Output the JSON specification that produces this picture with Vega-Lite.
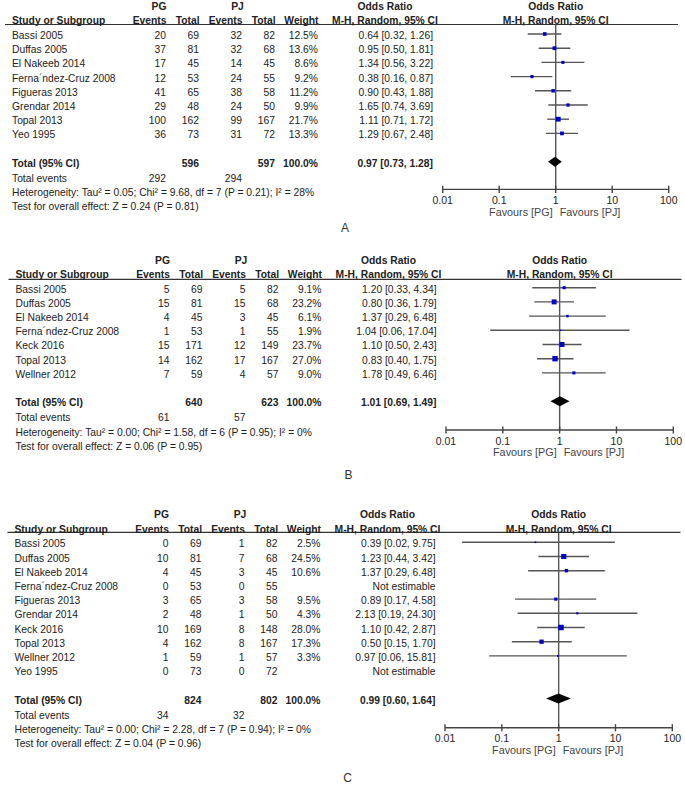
{
"$schema":"https://vega.github.io/schema/vega-lite/v6.json",
"padding":0,
"spacing":0,
"background":"white",
"datasets":{
"studies":[
{"panel":"A","row":1,"study":"Bassi 2005","pge":20,"pgt":69,"pje":32,"pjt":82,"weight":0.125,"ortext":"0.64 [0.32, 1.26]","est":0.64,"lo":0.32,"hi":1.26},
{"panel":"A","row":2,"study":"Duffas 2005","pge":37,"pgt":81,"pje":32,"pjt":68,"weight":0.136,"ortext":"0.95 [0.50, 1.81]","est":0.95,"lo":0.50,"hi":1.81},
{"panel":"A","row":3,"study":"El Nakeeb 2014","pge":17,"pgt":45,"pje":14,"pjt":45,"weight":0.086,"ortext":"1.34 [0.56, 3.22]","est":1.34,"lo":0.56,"hi":3.22},
{"panel":"A","row":4,"study":"Ferna´ndez-Cruz 2008","pge":12,"pgt":53,"pje":24,"pjt":55,"weight":0.092,"ortext":"0.38 [0.16, 0.87]","est":0.38,"lo":0.16,"hi":0.87},
{"panel":"A","row":5,"study":"Figueras 2013","pge":41,"pgt":65,"pje":38,"pjt":58,"weight":0.112,"ortext":"0.90 [0.43, 1.88]","est":0.90,"lo":0.43,"hi":1.88},
{"panel":"A","row":6,"study":"Grendar 2014","pge":29,"pgt":48,"pje":24,"pjt":50,"weight":0.099,"ortext":"1.65 [0.74, 3.69]","est":1.65,"lo":0.74,"hi":3.69},
{"panel":"A","row":7,"study":"Topal 2013","pge":100,"pgt":162,"pje":99,"pjt":167,"weight":0.217,"ortext":"1.11 [0.71, 1.72]","est":1.11,"lo":0.71,"hi":1.72},
{"panel":"A","row":8,"study":"Yeo 1995","pge":36,"pgt":73,"pje":31,"pjt":72,"weight":0.133,"ortext":"1.29 [0.67, 2.48]","est":1.29,"lo":0.67,"hi":2.48},
{"panel":"B","row":1,"study":"Bassi 2005","pge":5,"pgt":69,"pje":5,"pjt":82,"weight":0.091,"ortext":"1.20 [0.33, 4.34]","est":1.20,"lo":0.33,"hi":4.34},
{"panel":"B","row":2,"study":"Duffas 2005","pge":15,"pgt":81,"pje":15,"pjt":68,"weight":0.232,"ortext":"0.80 [0.36, 1.79]","est":0.80,"lo":0.36,"hi":1.79},
{"panel":"B","row":3,"study":"El Nakeeb 2014","pge":4,"pgt":45,"pje":3,"pjt":45,"weight":0.061,"ortext":"1.37 [0.29, 6.48]","est":1.37,"lo":0.29,"hi":6.48},
{"panel":"B","row":4,"study":"Ferna´ndez-Cruz 2008","pge":1,"pgt":53,"pje":1,"pjt":55,"weight":0.019,"ortext":"1.04 [0.06, 17.04]","est":1.04,"lo":0.06,"hi":17.04},
{"panel":"B","row":5,"study":"Keck 2016","pge":15,"pgt":171,"pje":12,"pjt":149,"weight":0.237,"ortext":"1.10 [0.50, 2.43]","est":1.10,"lo":0.50,"hi":2.43},
{"panel":"B","row":6,"study":"Topal 2013","pge":14,"pgt":162,"pje":17,"pjt":167,"weight":0.270,"ortext":"0.83 [0.40, 1.75]","est":0.83,"lo":0.40,"hi":1.75},
{"panel":"B","row":7,"study":"Wellner 2012","pge":7,"pgt":59,"pje":4,"pjt":57,"weight":0.090,"ortext":"1.78 [0.49, 6.46]","est":1.78,"lo":0.49,"hi":6.46},
{"panel":"C","row":1,"study":"Bassi 2005","pge":0,"pgt":69,"pje":1,"pjt":82,"weight":0.025,"ortext":"0.39 [0.02, 9.75]","est":0.39,"lo":0.02,"hi":9.75},
{"panel":"C","row":2,"study":"Duffas 2005","pge":10,"pgt":81,"pje":7,"pjt":68,"weight":0.245,"ortext":"1.23 [0.44, 3.42]","est":1.23,"lo":0.44,"hi":3.42},
{"panel":"C","row":3,"study":"El Nakeeb 2014","pge":4,"pgt":45,"pje":3,"pjt":45,"weight":0.106,"ortext":"1.37 [0.29, 6.48]","est":1.37,"lo":0.29,"hi":6.48},
{"panel":"C","row":4,"study":"Ferna´ndez-Cruz 2008","pge":0,"pgt":53,"pje":0,"pjt":55,"weight":null,"ortext":"Not estimable","est":null,"lo":null,"hi":null},
{"panel":"C","row":5,"study":"Figueras 2013","pge":3,"pgt":65,"pje":3,"pjt":58,"weight":0.095,"ortext":"0.89 [0.17, 4.58]","est":0.89,"lo":0.17,"hi":4.58},
{"panel":"C","row":6,"study":"Grendar 2014","pge":2,"pgt":48,"pje":1,"pjt":50,"weight":0.043,"ortext":"2.13 [0.19, 24.30]","est":2.13,"lo":0.19,"hi":24.30},
{"panel":"C","row":7,"study":"Keck 2016","pge":10,"pgt":169,"pje":8,"pjt":148,"weight":0.280,"ortext":"1.10 [0.42, 2.87]","est":1.10,"lo":0.42,"hi":2.87},
{"panel":"C","row":8,"study":"Topal 2013","pge":4,"pgt":162,"pje":8,"pjt":167,"weight":0.173,"ortext":"0.50 [0.15, 1.70]","est":0.50,"lo":0.15,"hi":1.70},
{"panel":"C","row":9,"study":"Wellner 2012","pge":1,"pgt":59,"pje":1,"pjt":57,"weight":0.033,"ortext":"0.97 [0.06, 15.81]","est":0.97,"lo":0.06,"hi":15.81},
{"panel":"C","row":10,"study":"Yeo 1995","pge":0,"pgt":73,"pje":0,"pjt":72,"weight":null,"ortext":"Not estimable","est":null,"lo":null,"hi":null}
],
"summary":[
{"panel":"A","row":10,"label":"Total (95% CI)","pgt":596,"pjt":597,"weight":1,"ortext":"0.97 [0.73, 1.28]","evrow":11,"evlabel":"Total events","pge":292,"pje":294,"hetrow":12,"het":"Heterogeneity: Tau² = 0.05; Chi² = 9.68, df = 7 (P = 0.21); I² = 28%","testrow":13,"test":"Test for overall effect: Z = 0.24 (P = 0.81)"},
{"panel":"B","row":9,"label":"Total (95% CI)","pgt":640,"pjt":623,"weight":1,"ortext":"1.01 [0.69, 1.49]","evrow":10,"evlabel":"Total events","pge":61,"pje":57,"hetrow":11,"het":"Heterogeneity: Tau² = 0.00; Chi² = 1.58, df = 6 (P = 0.95); I² = 0%","testrow":12,"test":"Test for overall effect: Z = 0.06 (P = 0.95)"},
{"panel":"C","row":12,"label":"Total (95% CI)","pgt":824,"pjt":802,"weight":1,"ortext":"0.99 [0.60, 1.64]","evrow":13,"evlabel":"Total events","pge":34,"pje":32,"hetrow":14,"het":"Heterogeneity: Tau² = 0.00; Chi² = 2.28, df = 7 (P = 0.94); I² = 0%","testrow":15,"test":"Test for overall effect: Z = 0.04 (P = 0.96)"}
],
"diamonds":[
{"panel":"A","v":0.73,"top":10,"bot":10},{"panel":"A","v":0.97,"top":9.65,"bot":10.35},{"panel":"A","v":1.28,"top":10,"bot":10},
{"panel":"B","v":0.69,"top":9,"bot":9},{"panel":"B","v":1.01,"top":8.65,"bot":9.35},{"panel":"B","v":1.49,"top":9,"bot":9},
{"panel":"C","v":0.60,"top":12,"bot":12},{"panel":"C","v":0.99,"top":11.65,"bot":12.35},{"panel":"C","v":1.64,"top":12,"bot":12}
],
"ticks":[{"v":0.01,"lab":"0.01"},{"v":0.1,"lab":"0.1"},{"v":1,"lab":"1"},{"v":10,"lab":"10"},{"v":100,"lab":"100"}]
},
"vconcat":[
{
"width":685,"height":245,
"data":{"name":"summary"},
"transform":[{"filter":"datum.panel==='A'"}],
"resolve":{"scale":{"x":"independent"}},
"layer":[
{"layer":[
{"mark":{"type":"rule","color":"#333","strokeWidth":1.2},"encoding":{"x":{"datum":5,"type":"quantitative","scale":{"domain":[0,685],"nice":false,"zero":false}},"x2":{"datum":678},"y":{"datum":0.33,"type":"quantitative","scale":{"domain":[-1.394,15.859],"reverse":true,"nice":false,"zero":false}}}},
{"mark":{"type":"text","text":"PG","fontWeight":"bold","align":"center","dy":1.5},"encoding":{"x":{"datum":159,"type":"quantitative","scale":{"domain":[0,685],"nice":false,"zero":false}},"y":{"datum":-1,"type":"quantitative","scale":{"domain":[-1.394,15.859],"reverse":true,"nice":false,"zero":false}}}},
{"mark":{"type":"text","text":"PJ","fontWeight":"bold","align":"center","dy":1.5},"encoding":{"x":{"datum":237.5,"type":"quantitative","scale":{"domain":[0,685],"nice":false,"zero":false}},"y":{"datum":-1,"type":"quantitative","scale":{"domain":[-1.394,15.859],"reverse":true,"nice":false,"zero":false}}}},
{"mark":{"type":"text","text":"Odds Ratio","fontWeight":"bold","align":"center","dy":1.5},"encoding":{"x":{"datum":385,"type":"quantitative","scale":{"domain":[0,685],"nice":false,"zero":false}},"y":{"datum":-1,"type":"quantitative","scale":{"domain":[-1.394,15.859],"reverse":true,"nice":false,"zero":false}}}},
{"mark":{"type":"text","text":"Study or Subgroup","fontWeight":"bold","align":"left","dy":1.5},"encoding":{"x":{"datum":12,"type":"quantitative","scale":{"domain":[0,685],"nice":false,"zero":false}},"y":{"datum":0,"type":"quantitative","scale":{"domain":[-1.394,15.859],"reverse":true,"nice":false,"zero":false}}}},
{"mark":{"type":"text","text":"Events","fontWeight":"bold","align":"right","dy":1.5},"encoding":{"x":{"datum":166.5,"type":"quantitative","scale":{"domain":[0,685],"nice":false,"zero":false}},"y":{"datum":0,"type":"quantitative","scale":{"domain":[-1.394,15.859],"reverse":true,"nice":false,"zero":false}}}},
{"mark":{"type":"text","text":"Total","fontWeight":"bold","align":"right","dy":1.5},"encoding":{"x":{"datum":199.5,"type":"quantitative","scale":{"domain":[0,685],"nice":false,"zero":false}},"y":{"datum":0,"type":"quantitative","scale":{"domain":[-1.394,15.859],"reverse":true,"nice":false,"zero":false}}}},
{"mark":{"type":"text","text":"Events","fontWeight":"bold","align":"right","dy":1.5},"encoding":{"x":{"datum":242.5,"type":"quantitative","scale":{"domain":[0,685],"nice":false,"zero":false}},"y":{"datum":0,"type":"quantitative","scale":{"domain":[-1.394,15.859],"reverse":true,"nice":false,"zero":false}}}},
{"mark":{"type":"text","text":"Total","fontWeight":"bold","align":"right","dy":1.5},"encoding":{"x":{"datum":275.5,"type":"quantitative","scale":{"domain":[0,685],"nice":false,"zero":false}},"y":{"datum":0,"type":"quantitative","scale":{"domain":[-1.394,15.859],"reverse":true,"nice":false,"zero":false}}}},
{"mark":{"type":"text","text":"Weight","fontWeight":"bold","align":"right","dy":1.5},"encoding":{"x":{"datum":318.5,"type":"quantitative","scale":{"domain":[0,685],"nice":false,"zero":false}},"y":{"datum":0,"type":"quantitative","scale":{"domain":[-1.394,15.859],"reverse":true,"nice":false,"zero":false}}}},
{"mark":{"type":"text","text":"M-H, Random, 95% CI","fontWeight":"bold","align":"center","dy":1.5},"encoding":{"x":{"datum":385,"type":"quantitative","scale":{"domain":[0,685],"nice":false,"zero":false}},"y":{"datum":0,"type":"quantitative","scale":{"domain":[-1.394,15.859],"reverse":true,"nice":false,"zero":false}}}},
{"data":{"name":"studies"},"transform":[{"filter":"datum.panel==='A'"}],"layer":[
{"mark":{"type":"text","align":"left","dy":2},"encoding":{"x":{"datum":12,"type":"quantitative","scale":{"domain":[0,685],"nice":false,"zero":false}},"y":{"field":"row","type":"quantitative","scale":{"domain":[-1.394,15.859],"reverse":true,"nice":false,"zero":false}},"text":{"field":"study","type":"nominal"}}},
{"mark":{"type":"text","align":"right","dy":2},"encoding":{"x":{"datum":166,"type":"quantitative","scale":{"domain":[0,685],"nice":false,"zero":false}},"y":{"field":"row","type":"quantitative","scale":{"domain":[-1.394,15.859],"reverse":true,"nice":false,"zero":false}},"text":{"field":"pge","type":"nominal"}}},
{"mark":{"type":"text","align":"right","dy":2},"encoding":{"x":{"datum":199,"type":"quantitative","scale":{"domain":[0,685],"nice":false,"zero":false}},"y":{"field":"row","type":"quantitative","scale":{"domain":[-1.394,15.859],"reverse":true,"nice":false,"zero":false}},"text":{"field":"pgt","type":"nominal"}}},
{"mark":{"type":"text","align":"right","dy":2},"encoding":{"x":{"datum":242,"type":"quantitative","scale":{"domain":[0,685],"nice":false,"zero":false}},"y":{"field":"row","type":"quantitative","scale":{"domain":[-1.394,15.859],"reverse":true,"nice":false,"zero":false}},"text":{"field":"pje","type":"nominal"}}},
{"mark":{"type":"text","align":"right","dy":2},"encoding":{"x":{"datum":275,"type":"quantitative","scale":{"domain":[0,685],"nice":false,"zero":false}},"y":{"field":"row","type":"quantitative","scale":{"domain":[-1.394,15.859],"reverse":true,"nice":false,"zero":false}},"text":{"field":"pjt","type":"nominal"}}},
{"transform":[{"filter":{"field":"weight","valid":true}}],"mark":{"type":"text","align":"right","dy":2},"encoding":{"x":{"datum":318,"type":"quantitative","scale":{"domain":[0,685],"nice":false,"zero":false}},"y":{"field":"row","type":"quantitative","scale":{"domain":[-1.394,15.859],"reverse":true,"nice":false,"zero":false}},"text":{"field":"weight","type":"quantitative","format":".1%"}}},
{"mark":{"type":"text","align":"right","dy":2},"encoding":{"x":{"datum":433,"type":"quantitative","scale":{"domain":[0,685],"nice":false,"zero":false}},"y":{"field":"row","type":"quantitative","scale":{"domain":[-1.394,15.859],"reverse":true,"nice":false,"zero":false}},"text":{"field":"ortext","type":"nominal"}}}
]},
{"mark":{"type":"text","align":"left","fontWeight":"bold","dy":2},"encoding":{"x":{"datum":12,"type":"quantitative","scale":{"domain":[0,685],"nice":false,"zero":false}},"y":{"field":"row","type":"quantitative","scale":{"domain":[-1.394,15.859],"reverse":true,"nice":false,"zero":false}},"text":{"field":"label","type":"nominal"}}},
{"mark":{"type":"text","align":"right","fontWeight":"bold","dy":2},"encoding":{"x":{"datum":199,"type":"quantitative","scale":{"domain":[0,685],"nice":false,"zero":false}},"y":{"field":"row","type":"quantitative","scale":{"domain":[-1.394,15.859],"reverse":true,"nice":false,"zero":false}},"text":{"field":"pgt","type":"nominal"}}},
{"mark":{"type":"text","align":"right","fontWeight":"bold","dy":2},"encoding":{"x":{"datum":275,"type":"quantitative","scale":{"domain":[0,685],"nice":false,"zero":false}},"y":{"field":"row","type":"quantitative","scale":{"domain":[-1.394,15.859],"reverse":true,"nice":false,"zero":false}},"text":{"field":"pjt","type":"nominal"}}},
{"mark":{"type":"text","align":"right","fontWeight":"bold","dy":2},"encoding":{"x":{"datum":318,"type":"quantitative","scale":{"domain":[0,685],"nice":false,"zero":false}},"y":{"field":"row","type":"quantitative","scale":{"domain":[-1.394,15.859],"reverse":true,"nice":false,"zero":false}},"text":{"field":"weight","type":"quantitative","format":".1%"}}},
{"mark":{"type":"text","align":"right","fontWeight":"bold","dy":2},"encoding":{"x":{"datum":433,"type":"quantitative","scale":{"domain":[0,685],"nice":false,"zero":false}},"y":{"field":"row","type":"quantitative","scale":{"domain":[-1.394,15.859],"reverse":true,"nice":false,"zero":false}},"text":{"field":"ortext","type":"nominal"}}},
{"mark":{"type":"text","align":"left","dy":3},"encoding":{"x":{"datum":12,"type":"quantitative","scale":{"domain":[0,685],"nice":false,"zero":false}},"y":{"field":"evrow","type":"quantitative","scale":{"domain":[-1.394,15.859],"reverse":true,"nice":false,"zero":false}},"text":{"field":"evlabel","type":"nominal"}}},
{"mark":{"type":"text","align":"right","dy":3},"encoding":{"x":{"datum":166,"type":"quantitative","scale":{"domain":[0,685],"nice":false,"zero":false}},"y":{"field":"evrow","type":"quantitative","scale":{"domain":[-1.394,15.859],"reverse":true,"nice":false,"zero":false}},"text":{"field":"pge","type":"nominal"}}},
{"mark":{"type":"text","align":"right","dy":3},"encoding":{"x":{"datum":242,"type":"quantitative","scale":{"domain":[0,685],"nice":false,"zero":false}},"y":{"field":"evrow","type":"quantitative","scale":{"domain":[-1.394,15.859],"reverse":true,"nice":false,"zero":false}},"text":{"field":"pje","type":"nominal"}}},
{"mark":{"type":"text","align":"left","dy":3},"encoding":{"x":{"datum":12,"type":"quantitative","scale":{"domain":[0,685],"nice":false,"zero":false}},"y":{"field":"hetrow","type":"quantitative","scale":{"domain":[-1.394,15.859],"reverse":true,"nice":false,"zero":false}},"text":{"field":"het","type":"nominal"}}},
{"mark":{"type":"text","align":"left","dy":3},"encoding":{"x":{"datum":12,"type":"quantitative","scale":{"domain":[0,685],"nice":false,"zero":false}},"y":{"field":"testrow","type":"quantitative","scale":{"domain":[-1.394,15.859],"reverse":true,"nice":false,"zero":false}},"text":{"field":"test","type":"nominal"}}},
{"mark":{"type":"text","text":"A","align":"center","fontSize":12,"color":"#333"},"encoding":{"x":{"datum":345,"type":"quantitative","scale":{"domain":[0,685],"nice":false,"zero":false}},"y":{"datum":14.66,"type":"quantitative","scale":{"domain":[-1.394,15.859],"reverse":true,"nice":false,"zero":false}}}}
]},
{"layer":[
{"mark":{"type":"rule","color":"#555","strokeWidth":1.4},"encoding":{"x":{"datum":1,"type":"quantitative","scale":{"type":"log","domain":[1.462e-10,194.1],"nice":false}},"y":{"datum":0.33,"type":"quantitative","scale":{"domain":[-1.394,15.859],"reverse":true,"nice":false,"zero":false}},"y2":{"datum":11.94}}},
{"data":{"name":"studies"},"transform":[{"filter":"datum.panel==='A' && isValid(datum.est)"}],"layer":[
{"mark":{"type":"rule","color":"#555","strokeWidth":1.4},"encoding":{"x":{"field":"lo","type":"quantitative","scale":{"type":"log","domain":[1.462e-10,194.1],"nice":false}},"x2":{"field":"hi"},"y":{"field":"row","type":"quantitative","scale":{"domain":[-1.394,15.859],"reverse":true,"nice":false,"zero":false}}}},
{"mark":{"type":"point","shape":"square","filled":true,"opacity":1,"color":"#0000c8"},"encoding":{"x":{"field":"est","type":"quantitative","scale":{"type":"log","domain":[1.462e-10,194.1],"nice":false}},"y":{"field":"row","type":"quantitative","scale":{"domain":[-1.394,15.859],"reverse":true,"nice":false,"zero":false}},"size":{"field":"weight","type":"quantitative","scale":{"domain":[0,0.3],"range":[0,32]},"legend":null}}}
]},
{"data":{"name":"diamonds"},"transform":[{"filter":"datum.panel==='A'"}],"mark":{"type":"area","color":"#000","opacity":1},"encoding":{"x":{"field":"v","type":"quantitative","scale":{"type":"log","domain":[1.462e-10,194.1],"nice":false}},"y":{"field":"top","type":"quantitative","scale":{"domain":[-1.394,15.859],"reverse":true,"nice":false,"zero":false}},"y2":{"field":"bot"}}},
{"mark":{"type":"rule","color":"#444","strokeWidth":1.4},"encoding":{"x":{"datum":0.01,"type":"quantitative","scale":{"type":"log","domain":[1.462e-10,194.1],"nice":false}},"x2":{"datum":100},"y":{"datum":11.94,"type":"quantitative","scale":{"domain":[-1.394,15.859],"reverse":true,"nice":false,"zero":false}}}},
{"data":{"name":"ticks"},"layer":[
{"mark":{"type":"rule","color":"#444","strokeWidth":1.4},"encoding":{"x":{"field":"v","type":"quantitative","scale":{"type":"log","domain":[1.462e-10,194.1],"nice":false}},"y":{"datum":11.69,"type":"quantitative","scale":{"domain":[-1.394,15.859],"reverse":true,"nice":false,"zero":false}},"y2":{"datum":12.19}}},
{"mark":{"type":"text","align":"center","fontSize":10.5},"encoding":{"x":{"field":"v","type":"quantitative","scale":{"type":"log","domain":[1.462e-10,194.1],"nice":false}},"y":{"datum":12.76,"type":"quantitative","scale":{"domain":[-1.394,15.859],"reverse":true,"nice":false,"zero":false}},"text":{"field":"lab","type":"nominal"}}}
]},
{"mark":{"type":"text","text":"Favours [PG]","align":"right","dx":-3,"color":"#444","fontSize":10.8},"encoding":{"x":{"datum":1,"type":"quantitative","scale":{"type":"log","domain":[1.462e-10,194.1],"nice":false}},"y":{"datum":13.58,"type":"quantitative","scale":{"domain":[-1.394,15.859],"reverse":true,"nice":false,"zero":false}}}},
{"mark":{"type":"text","text":"Favours [PJ]","align":"left","dx":4,"color":"#444","fontSize":10.8},"encoding":{"x":{"datum":1,"type":"quantitative","scale":{"type":"log","domain":[1.462e-10,194.1],"nice":false}},"y":{"datum":13.58,"type":"quantitative","scale":{"domain":[-1.394,15.859],"reverse":true,"nice":false,"zero":false}}}},
{"mark":{"type":"text","text":"Odds Ratio","fontWeight":"bold","align":"center","dy":1.5},"encoding":{"x":{"datum":1,"type":"quantitative","scale":{"type":"log","domain":[1.462e-10,194.1],"nice":false}},"y":{"datum":-1,"type":"quantitative","scale":{"domain":[-1.394,15.859],"reverse":true,"nice":false,"zero":false}}}},
{"mark":{"type":"text","text":"M-H, Random, 95% CI","fontWeight":"bold","align":"center","dy":1.5},"encoding":{"x":{"datum":1,"type":"quantitative","scale":{"type":"log","domain":[1.462e-10,194.1],"nice":false}},"y":{"datum":0,"type":"quantitative","scale":{"domain":[-1.394,15.859],"reverse":true,"nice":false,"zero":false}}}}
]}
]
},
{
"width":685,"height":250,
"data":{"name":"summary"},
"transform":[{"filter":"datum.panel==='B'"}],
"resolve":{"scale":{"x":"independent"}},
"layer":[
{"layer":[
{"mark":{"type":"rule","color":"#333","strokeWidth":1.2},"encoding":{"x":{"datum":5,"type":"quantitative","scale":{"domain":[-3.5,681.5],"nice":false,"zero":false}},"x2":{"datum":678},"y":{"datum":0.41,"type":"quantitative","scale":{"domain":[-2.007,15.599],"reverse":true,"nice":false,"zero":false}}}},
{"mark":{"type":"text","text":"PG","fontWeight":"bold","align":"center","dy":1.5},"encoding":{"x":{"datum":159,"type":"quantitative","scale":{"domain":[-3.5,681.5],"nice":false,"zero":false}},"y":{"datum":-1,"type":"quantitative","scale":{"domain":[-2.007,15.599],"reverse":true,"nice":false,"zero":false}}}},
{"mark":{"type":"text","text":"PJ","fontWeight":"bold","align":"center","dy":1.5},"encoding":{"x":{"datum":237.5,"type":"quantitative","scale":{"domain":[-3.5,681.5],"nice":false,"zero":false}},"y":{"datum":-1,"type":"quantitative","scale":{"domain":[-2.007,15.599],"reverse":true,"nice":false,"zero":false}}}},
{"mark":{"type":"text","text":"Odds Ratio","fontWeight":"bold","align":"center","dy":1.5},"encoding":{"x":{"datum":385,"type":"quantitative","scale":{"domain":[-3.5,681.5],"nice":false,"zero":false}},"y":{"datum":-1,"type":"quantitative","scale":{"domain":[-2.007,15.599],"reverse":true,"nice":false,"zero":false}}}},
{"mark":{"type":"text","text":"Study or Subgroup","fontWeight":"bold","align":"left","dy":1.5},"encoding":{"x":{"datum":12,"type":"quantitative","scale":{"domain":[-3.5,681.5],"nice":false,"zero":false}},"y":{"datum":0,"type":"quantitative","scale":{"domain":[-2.007,15.599],"reverse":true,"nice":false,"zero":false}}}},
{"mark":{"type":"text","text":"Events","fontWeight":"bold","align":"right","dy":1.5},"encoding":{"x":{"datum":166.5,"type":"quantitative","scale":{"domain":[-3.5,681.5],"nice":false,"zero":false}},"y":{"datum":0,"type":"quantitative","scale":{"domain":[-2.007,15.599],"reverse":true,"nice":false,"zero":false}}}},
{"mark":{"type":"text","text":"Total","fontWeight":"bold","align":"right","dy":1.5},"encoding":{"x":{"datum":199.5,"type":"quantitative","scale":{"domain":[-3.5,681.5],"nice":false,"zero":false}},"y":{"datum":0,"type":"quantitative","scale":{"domain":[-2.007,15.599],"reverse":true,"nice":false,"zero":false}}}},
{"mark":{"type":"text","text":"Events","fontWeight":"bold","align":"right","dy":1.5},"encoding":{"x":{"datum":242.5,"type":"quantitative","scale":{"domain":[-3.5,681.5],"nice":false,"zero":false}},"y":{"datum":0,"type":"quantitative","scale":{"domain":[-2.007,15.599],"reverse":true,"nice":false,"zero":false}}}},
{"mark":{"type":"text","text":"Total","fontWeight":"bold","align":"right","dy":1.5},"encoding":{"x":{"datum":275.5,"type":"quantitative","scale":{"domain":[-3.5,681.5],"nice":false,"zero":false}},"y":{"datum":0,"type":"quantitative","scale":{"domain":[-2.007,15.599],"reverse":true,"nice":false,"zero":false}}}},
{"mark":{"type":"text","text":"Weight","fontWeight":"bold","align":"right","dy":1.5},"encoding":{"x":{"datum":318.5,"type":"quantitative","scale":{"domain":[-3.5,681.5],"nice":false,"zero":false}},"y":{"datum":0,"type":"quantitative","scale":{"domain":[-2.007,15.599],"reverse":true,"nice":false,"zero":false}}}},
{"mark":{"type":"text","text":"M-H, Random, 95% CI","fontWeight":"bold","align":"center","dy":1.5},"encoding":{"x":{"datum":385,"type":"quantitative","scale":{"domain":[-3.5,681.5],"nice":false,"zero":false}},"y":{"datum":0,"type":"quantitative","scale":{"domain":[-2.007,15.599],"reverse":true,"nice":false,"zero":false}}}},
{"data":{"name":"studies"},"transform":[{"filter":"datum.panel==='B'"}],"layer":[
{"mark":{"type":"text","align":"left","dy":2},"encoding":{"x":{"datum":12,"type":"quantitative","scale":{"domain":[-3.5,681.5],"nice":false,"zero":false}},"y":{"field":"row","type":"quantitative","scale":{"domain":[-2.007,15.599],"reverse":true,"nice":false,"zero":false}},"text":{"field":"study","type":"nominal"}}},
{"mark":{"type":"text","align":"right","dy":2},"encoding":{"x":{"datum":166,"type":"quantitative","scale":{"domain":[-3.5,681.5],"nice":false,"zero":false}},"y":{"field":"row","type":"quantitative","scale":{"domain":[-2.007,15.599],"reverse":true,"nice":false,"zero":false}},"text":{"field":"pge","type":"nominal"}}},
{"mark":{"type":"text","align":"right","dy":2},"encoding":{"x":{"datum":199,"type":"quantitative","scale":{"domain":[-3.5,681.5],"nice":false,"zero":false}},"y":{"field":"row","type":"quantitative","scale":{"domain":[-2.007,15.599],"reverse":true,"nice":false,"zero":false}},"text":{"field":"pgt","type":"nominal"}}},
{"mark":{"type":"text","align":"right","dy":2},"encoding":{"x":{"datum":242,"type":"quantitative","scale":{"domain":[-3.5,681.5],"nice":false,"zero":false}},"y":{"field":"row","type":"quantitative","scale":{"domain":[-2.007,15.599],"reverse":true,"nice":false,"zero":false}},"text":{"field":"pje","type":"nominal"}}},
{"mark":{"type":"text","align":"right","dy":2},"encoding":{"x":{"datum":275,"type":"quantitative","scale":{"domain":[-3.5,681.5],"nice":false,"zero":false}},"y":{"field":"row","type":"quantitative","scale":{"domain":[-2.007,15.599],"reverse":true,"nice":false,"zero":false}},"text":{"field":"pjt","type":"nominal"}}},
{"transform":[{"filter":{"field":"weight","valid":true}}],"mark":{"type":"text","align":"right","dy":2},"encoding":{"x":{"datum":318,"type":"quantitative","scale":{"domain":[-3.5,681.5],"nice":false,"zero":false}},"y":{"field":"row","type":"quantitative","scale":{"domain":[-2.007,15.599],"reverse":true,"nice":false,"zero":false}},"text":{"field":"weight","type":"quantitative","format":".1%"}}},
{"mark":{"type":"text","align":"right","dy":2},"encoding":{"x":{"datum":433,"type":"quantitative","scale":{"domain":[-3.5,681.5],"nice":false,"zero":false}},"y":{"field":"row","type":"quantitative","scale":{"domain":[-2.007,15.599],"reverse":true,"nice":false,"zero":false}},"text":{"field":"ortext","type":"nominal"}}}
]},
{"mark":{"type":"text","align":"left","fontWeight":"bold","dy":2},"encoding":{"x":{"datum":12,"type":"quantitative","scale":{"domain":[-3.5,681.5],"nice":false,"zero":false}},"y":{"field":"row","type":"quantitative","scale":{"domain":[-2.007,15.599],"reverse":true,"nice":false,"zero":false}},"text":{"field":"label","type":"nominal"}}},
{"mark":{"type":"text","align":"right","fontWeight":"bold","dy":2},"encoding":{"x":{"datum":199,"type":"quantitative","scale":{"domain":[-3.5,681.5],"nice":false,"zero":false}},"y":{"field":"row","type":"quantitative","scale":{"domain":[-2.007,15.599],"reverse":true,"nice":false,"zero":false}},"text":{"field":"pgt","type":"nominal"}}},
{"mark":{"type":"text","align":"right","fontWeight":"bold","dy":2},"encoding":{"x":{"datum":275,"type":"quantitative","scale":{"domain":[-3.5,681.5],"nice":false,"zero":false}},"y":{"field":"row","type":"quantitative","scale":{"domain":[-2.007,15.599],"reverse":true,"nice":false,"zero":false}},"text":{"field":"pjt","type":"nominal"}}},
{"mark":{"type":"text","align":"right","fontWeight":"bold","dy":2},"encoding":{"x":{"datum":318,"type":"quantitative","scale":{"domain":[-3.5,681.5],"nice":false,"zero":false}},"y":{"field":"row","type":"quantitative","scale":{"domain":[-2.007,15.599],"reverse":true,"nice":false,"zero":false}},"text":{"field":"weight","type":"quantitative","format":".1%"}}},
{"mark":{"type":"text","align":"right","fontWeight":"bold","dy":2},"encoding":{"x":{"datum":433,"type":"quantitative","scale":{"domain":[-3.5,681.5],"nice":false,"zero":false}},"y":{"field":"row","type":"quantitative","scale":{"domain":[-2.007,15.599],"reverse":true,"nice":false,"zero":false}},"text":{"field":"ortext","type":"nominal"}}},
{"mark":{"type":"text","align":"left","dy":3},"encoding":{"x":{"datum":12,"type":"quantitative","scale":{"domain":[-3.5,681.5],"nice":false,"zero":false}},"y":{"field":"evrow","type":"quantitative","scale":{"domain":[-2.007,15.599],"reverse":true,"nice":false,"zero":false}},"text":{"field":"evlabel","type":"nominal"}}},
{"mark":{"type":"text","align":"right","dy":3},"encoding":{"x":{"datum":166,"type":"quantitative","scale":{"domain":[-3.5,681.5],"nice":false,"zero":false}},"y":{"field":"evrow","type":"quantitative","scale":{"domain":[-2.007,15.599],"reverse":true,"nice":false,"zero":false}},"text":{"field":"pge","type":"nominal"}}},
{"mark":{"type":"text","align":"right","dy":3},"encoding":{"x":{"datum":242,"type":"quantitative","scale":{"domain":[-3.5,681.5],"nice":false,"zero":false}},"y":{"field":"evrow","type":"quantitative","scale":{"domain":[-2.007,15.599],"reverse":true,"nice":false,"zero":false}},"text":{"field":"pje","type":"nominal"}}},
{"mark":{"type":"text","align":"left","dy":3},"encoding":{"x":{"datum":12,"type":"quantitative","scale":{"domain":[-3.5,681.5],"nice":false,"zero":false}},"y":{"field":"hetrow","type":"quantitative","scale":{"domain":[-2.007,15.599],"reverse":true,"nice":false,"zero":false}},"text":{"field":"het","type":"nominal"}}},
{"mark":{"type":"text","align":"left","dy":3},"encoding":{"x":{"datum":12,"type":"quantitative","scale":{"domain":[-3.5,681.5],"nice":false,"zero":false}},"y":{"field":"testrow","type":"quantitative","scale":{"domain":[-2.007,15.599],"reverse":true,"nice":false,"zero":false}},"text":{"field":"test","type":"nominal"}}},
{"mark":{"type":"text","text":"B","align":"center","fontSize":12,"color":"#333"},"encoding":{"x":{"datum":345,"type":"quantitative","scale":{"domain":[-3.5,681.5],"nice":false,"zero":false}},"y":{"datum":14.19,"type":"quantitative","scale":{"domain":[-2.007,15.599],"reverse":true,"nice":false,"zero":false}}}}
]},
{"layer":[
{"mark":{"type":"rule","color":"#555","strokeWidth":1.4},"encoding":{"x":{"datum":1,"type":"quantitative","scale":{"type":"log","domain":[1.419e-10,160.7],"nice":false}},"y":{"datum":0.41,"type":"quantitative","scale":{"domain":[-2.007,15.599],"reverse":true,"nice":false,"zero":false}},"y2":{"datum":11.02}}},
{"data":{"name":"studies"},"transform":[{"filter":"datum.panel==='B' && isValid(datum.est)"}],"layer":[
{"mark":{"type":"rule","color":"#555","strokeWidth":1.4},"encoding":{"x":{"field":"lo","type":"quantitative","scale":{"type":"log","domain":[1.419e-10,160.7],"nice":false}},"x2":{"field":"hi"},"y":{"field":"row","type":"quantitative","scale":{"domain":[-2.007,15.599],"reverse":true,"nice":false,"zero":false}}}},
{"mark":{"type":"point","shape":"square","filled":true,"opacity":1,"color":"#0000c8"},"encoding":{"x":{"field":"est","type":"quantitative","scale":{"type":"log","domain":[1.419e-10,160.7],"nice":false}},"y":{"field":"row","type":"quantitative","scale":{"domain":[-2.007,15.599],"reverse":true,"nice":false,"zero":false}},"size":{"field":"weight","type":"quantitative","scale":{"domain":[0,0.3],"range":[0,32]},"legend":null}}}
]},
{"data":{"name":"diamonds"},"transform":[{"filter":"datum.panel==='B'"}],"mark":{"type":"area","color":"#000","opacity":1},"encoding":{"x":{"field":"v","type":"quantitative","scale":{"type":"log","domain":[1.419e-10,160.7],"nice":false}},"y":{"field":"top","type":"quantitative","scale":{"domain":[-2.007,15.599],"reverse":true,"nice":false,"zero":false}},"y2":{"field":"bot"}}},
{"mark":{"type":"rule","color":"#444","strokeWidth":1.4},"encoding":{"x":{"datum":0.01,"type":"quantitative","scale":{"type":"log","domain":[1.419e-10,160.7],"nice":false}},"x2":{"datum":100},"y":{"datum":11.02,"type":"quantitative","scale":{"domain":[-2.007,15.599],"reverse":true,"nice":false,"zero":false}}}},
{"data":{"name":"ticks"},"layer":[
{"mark":{"type":"rule","color":"#444","strokeWidth":1.4},"encoding":{"x":{"field":"v","type":"quantitative","scale":{"type":"log","domain":[1.419e-10,160.7],"nice":false}},"y":{"datum":10.77,"type":"quantitative","scale":{"domain":[-2.007,15.599],"reverse":true,"nice":false,"zero":false}},"y2":{"datum":11.27}}},
{"mark":{"type":"text","align":"center","fontSize":10.5},"encoding":{"x":{"field":"v","type":"quantitative","scale":{"type":"log","domain":[1.419e-10,160.7],"nice":false}},"y":{"datum":11.85,"type":"quantitative","scale":{"domain":[-2.007,15.599],"reverse":true,"nice":false,"zero":false}},"text":{"field":"lab","type":"nominal"}}}
]},
{"mark":{"type":"text","text":"Favours [PG]","align":"right","dx":-3,"color":"#444","fontSize":10.8},"encoding":{"x":{"datum":1,"type":"quantitative","scale":{"type":"log","domain":[1.419e-10,160.7],"nice":false}},"y":{"datum":12.66,"type":"quantitative","scale":{"domain":[-2.007,15.599],"reverse":true,"nice":false,"zero":false}}}},
{"mark":{"type":"text","text":"Favours [PJ]","align":"left","dx":4,"color":"#444","fontSize":10.8},"encoding":{"x":{"datum":1,"type":"quantitative","scale":{"type":"log","domain":[1.419e-10,160.7],"nice":false}},"y":{"datum":12.66,"type":"quantitative","scale":{"domain":[-2.007,15.599],"reverse":true,"nice":false,"zero":false}}}},
{"mark":{"type":"text","text":"Odds Ratio","fontWeight":"bold","align":"center","dy":1.5},"encoding":{"x":{"datum":1,"type":"quantitative","scale":{"type":"log","domain":[1.419e-10,160.7],"nice":false}},"y":{"datum":-1,"type":"quantitative","scale":{"domain":[-2.007,15.599],"reverse":true,"nice":false,"zero":false}}}},
{"mark":{"type":"text","text":"M-H, Random, 95% CI","fontWeight":"bold","align":"center","dy":1.5},"encoding":{"x":{"datum":1,"type":"quantitative","scale":{"type":"log","domain":[1.419e-10,160.7],"nice":false}},"y":{"datum":0,"type":"quantitative","scale":{"domain":[-2.007,15.599],"reverse":true,"nice":false,"zero":false}}}}
]}
]
},
{
"width":685,"height":292,
"data":{"name":"summary"},
"transform":[{"filter":"datum.panel==='C'"}],
"resolve":{"scale":{"x":"independent"}},
"layer":[
{"layer":[
{"mark":{"type":"rule","color":"#333","strokeWidth":1.2},"encoding":{"x":{"datum":5,"type":"quantitative","scale":{"domain":[-2.5,682.5],"nice":false,"zero":false}},"x2":{"datum":678},"y":{"datum":0.3,"type":"quantitative","scale":{"domain":[-2.331,18.232],"reverse":true,"nice":false,"zero":false}}}},
{"mark":{"type":"text","text":"PG","fontWeight":"bold","align":"center","dy":1.5},"encoding":{"x":{"datum":159,"type":"quantitative","scale":{"domain":[-2.5,682.5],"nice":false,"zero":false}},"y":{"datum":-1,"type":"quantitative","scale":{"domain":[-2.331,18.232],"reverse":true,"nice":false,"zero":false}}}},
{"mark":{"type":"text","text":"PJ","fontWeight":"bold","align":"center","dy":1.5},"encoding":{"x":{"datum":237.5,"type":"quantitative","scale":{"domain":[-2.5,682.5],"nice":false,"zero":false}},"y":{"datum":-1,"type":"quantitative","scale":{"domain":[-2.331,18.232],"reverse":true,"nice":false,"zero":false}}}},
{"mark":{"type":"text","text":"Odds Ratio","fontWeight":"bold","align":"center","dy":1.5},"encoding":{"x":{"datum":385,"type":"quantitative","scale":{"domain":[-2.5,682.5],"nice":false,"zero":false}},"y":{"datum":-1,"type":"quantitative","scale":{"domain":[-2.331,18.232],"reverse":true,"nice":false,"zero":false}}}},
{"mark":{"type":"text","text":"Study or Subgroup","fontWeight":"bold","align":"left","dy":1.5},"encoding":{"x":{"datum":12,"type":"quantitative","scale":{"domain":[-2.5,682.5],"nice":false,"zero":false}},"y":{"datum":0,"type":"quantitative","scale":{"domain":[-2.331,18.232],"reverse":true,"nice":false,"zero":false}}}},
{"mark":{"type":"text","text":"Events","fontWeight":"bold","align":"right","dy":1.5},"encoding":{"x":{"datum":166.5,"type":"quantitative","scale":{"domain":[-2.5,682.5],"nice":false,"zero":false}},"y":{"datum":0,"type":"quantitative","scale":{"domain":[-2.331,18.232],"reverse":true,"nice":false,"zero":false}}}},
{"mark":{"type":"text","text":"Total","fontWeight":"bold","align":"right","dy":1.5},"encoding":{"x":{"datum":199.5,"type":"quantitative","scale":{"domain":[-2.5,682.5],"nice":false,"zero":false}},"y":{"datum":0,"type":"quantitative","scale":{"domain":[-2.331,18.232],"reverse":true,"nice":false,"zero":false}}}},
{"mark":{"type":"text","text":"Events","fontWeight":"bold","align":"right","dy":1.5},"encoding":{"x":{"datum":242.5,"type":"quantitative","scale":{"domain":[-2.5,682.5],"nice":false,"zero":false}},"y":{"datum":0,"type":"quantitative","scale":{"domain":[-2.331,18.232],"reverse":true,"nice":false,"zero":false}}}},
{"mark":{"type":"text","text":"Total","fontWeight":"bold","align":"right","dy":1.5},"encoding":{"x":{"datum":275.5,"type":"quantitative","scale":{"domain":[-2.5,682.5],"nice":false,"zero":false}},"y":{"datum":0,"type":"quantitative","scale":{"domain":[-2.331,18.232],"reverse":true,"nice":false,"zero":false}}}},
{"mark":{"type":"text","text":"Weight","fontWeight":"bold","align":"right","dy":1.5},"encoding":{"x":{"datum":318.5,"type":"quantitative","scale":{"domain":[-2.5,682.5],"nice":false,"zero":false}},"y":{"datum":0,"type":"quantitative","scale":{"domain":[-2.331,18.232],"reverse":true,"nice":false,"zero":false}}}},
{"mark":{"type":"text","text":"M-H, Random, 95% CI","fontWeight":"bold","align":"center","dy":1.5},"encoding":{"x":{"datum":385,"type":"quantitative","scale":{"domain":[-2.5,682.5],"nice":false,"zero":false}},"y":{"datum":0,"type":"quantitative","scale":{"domain":[-2.331,18.232],"reverse":true,"nice":false,"zero":false}}}},
{"data":{"name":"studies"},"transform":[{"filter":"datum.panel==='C'"}],"layer":[
{"mark":{"type":"text","align":"left","dy":2},"encoding":{"x":{"datum":12,"type":"quantitative","scale":{"domain":[-2.5,682.5],"nice":false,"zero":false}},"y":{"field":"row","type":"quantitative","scale":{"domain":[-2.331,18.232],"reverse":true,"nice":false,"zero":false}},"text":{"field":"study","type":"nominal"}}},
{"mark":{"type":"text","align":"right","dy":2},"encoding":{"x":{"datum":166,"type":"quantitative","scale":{"domain":[-2.5,682.5],"nice":false,"zero":false}},"y":{"field":"row","type":"quantitative","scale":{"domain":[-2.331,18.232],"reverse":true,"nice":false,"zero":false}},"text":{"field":"pge","type":"nominal"}}},
{"mark":{"type":"text","align":"right","dy":2},"encoding":{"x":{"datum":199,"type":"quantitative","scale":{"domain":[-2.5,682.5],"nice":false,"zero":false}},"y":{"field":"row","type":"quantitative","scale":{"domain":[-2.331,18.232],"reverse":true,"nice":false,"zero":false}},"text":{"field":"pgt","type":"nominal"}}},
{"mark":{"type":"text","align":"right","dy":2},"encoding":{"x":{"datum":242,"type":"quantitative","scale":{"domain":[-2.5,682.5],"nice":false,"zero":false}},"y":{"field":"row","type":"quantitative","scale":{"domain":[-2.331,18.232],"reverse":true,"nice":false,"zero":false}},"text":{"field":"pje","type":"nominal"}}},
{"mark":{"type":"text","align":"right","dy":2},"encoding":{"x":{"datum":275,"type":"quantitative","scale":{"domain":[-2.5,682.5],"nice":false,"zero":false}},"y":{"field":"row","type":"quantitative","scale":{"domain":[-2.331,18.232],"reverse":true,"nice":false,"zero":false}},"text":{"field":"pjt","type":"nominal"}}},
{"transform":[{"filter":{"field":"weight","valid":true}}],"mark":{"type":"text","align":"right","dy":2},"encoding":{"x":{"datum":318,"type":"quantitative","scale":{"domain":[-2.5,682.5],"nice":false,"zero":false}},"y":{"field":"row","type":"quantitative","scale":{"domain":[-2.331,18.232],"reverse":true,"nice":false,"zero":false}},"text":{"field":"weight","type":"quantitative","format":".1%"}}},
{"mark":{"type":"text","align":"right","dy":2},"encoding":{"x":{"datum":433,"type":"quantitative","scale":{"domain":[-2.5,682.5],"nice":false,"zero":false}},"y":{"field":"row","type":"quantitative","scale":{"domain":[-2.331,18.232],"reverse":true,"nice":false,"zero":false}},"text":{"field":"ortext","type":"nominal"}}}
]},
{"mark":{"type":"text","align":"left","fontWeight":"bold","dy":2},"encoding":{"x":{"datum":12,"type":"quantitative","scale":{"domain":[-2.5,682.5],"nice":false,"zero":false}},"y":{"field":"row","type":"quantitative","scale":{"domain":[-2.331,18.232],"reverse":true,"nice":false,"zero":false}},"text":{"field":"label","type":"nominal"}}},
{"mark":{"type":"text","align":"right","fontWeight":"bold","dy":2},"encoding":{"x":{"datum":199,"type":"quantitative","scale":{"domain":[-2.5,682.5],"nice":false,"zero":false}},"y":{"field":"row","type":"quantitative","scale":{"domain":[-2.331,18.232],"reverse":true,"nice":false,"zero":false}},"text":{"field":"pgt","type":"nominal"}}},
{"mark":{"type":"text","align":"right","fontWeight":"bold","dy":2},"encoding":{"x":{"datum":275,"type":"quantitative","scale":{"domain":[-2.5,682.5],"nice":false,"zero":false}},"y":{"field":"row","type":"quantitative","scale":{"domain":[-2.331,18.232],"reverse":true,"nice":false,"zero":false}},"text":{"field":"pjt","type":"nominal"}}},
{"mark":{"type":"text","align":"right","fontWeight":"bold","dy":2},"encoding":{"x":{"datum":318,"type":"quantitative","scale":{"domain":[-2.5,682.5],"nice":false,"zero":false}},"y":{"field":"row","type":"quantitative","scale":{"domain":[-2.331,18.232],"reverse":true,"nice":false,"zero":false}},"text":{"field":"weight","type":"quantitative","format":".1%"}}},
{"mark":{"type":"text","align":"right","fontWeight":"bold","dy":2},"encoding":{"x":{"datum":433,"type":"quantitative","scale":{"domain":[-2.5,682.5],"nice":false,"zero":false}},"y":{"field":"row","type":"quantitative","scale":{"domain":[-2.331,18.232],"reverse":true,"nice":false,"zero":false}},"text":{"field":"ortext","type":"nominal"}}},
{"mark":{"type":"text","align":"left","dy":3},"encoding":{"x":{"datum":12,"type":"quantitative","scale":{"domain":[-2.5,682.5],"nice":false,"zero":false}},"y":{"field":"evrow","type":"quantitative","scale":{"domain":[-2.331,18.232],"reverse":true,"nice":false,"zero":false}},"text":{"field":"evlabel","type":"nominal"}}},
{"mark":{"type":"text","align":"right","dy":3},"encoding":{"x":{"datum":166,"type":"quantitative","scale":{"domain":[-2.5,682.5],"nice":false,"zero":false}},"y":{"field":"evrow","type":"quantitative","scale":{"domain":[-2.331,18.232],"reverse":true,"nice":false,"zero":false}},"text":{"field":"pge","type":"nominal"}}},
{"mark":{"type":"text","align":"right","dy":3},"encoding":{"x":{"datum":242,"type":"quantitative","scale":{"domain":[-2.5,682.5],"nice":false,"zero":false}},"y":{"field":"evrow","type":"quantitative","scale":{"domain":[-2.331,18.232],"reverse":true,"nice":false,"zero":false}},"text":{"field":"pje","type":"nominal"}}},
{"mark":{"type":"text","align":"left","dy":3},"encoding":{"x":{"datum":12,"type":"quantitative","scale":{"domain":[-2.5,682.5],"nice":false,"zero":false}},"y":{"field":"hetrow","type":"quantitative","scale":{"domain":[-2.331,18.232],"reverse":true,"nice":false,"zero":false}},"text":{"field":"het","type":"nominal"}}},
{"mark":{"type":"text","align":"left","dy":3},"encoding":{"x":{"datum":12,"type":"quantitative","scale":{"domain":[-2.5,682.5],"nice":false,"zero":false}},"y":{"field":"testrow","type":"quantitative","scale":{"domain":[-2.331,18.232],"reverse":true,"nice":false,"zero":false}},"text":{"field":"test","type":"nominal"}}},
{"mark":{"type":"text","text":"C","align":"center","fontSize":12,"color":"#333"},"encoding":{"x":{"datum":345,"type":"quantitative","scale":{"domain":[-2.5,682.5],"nice":false,"zero":false}},"y":{"datum":17.6,"type":"quantitative","scale":{"domain":[-2.331,18.232],"reverse":true,"nice":false,"zero":false}}}}
]},
{"layer":[
{"mark":{"type":"rule","color":"#555","strokeWidth":1.4},"encoding":{"x":{"datum":1,"type":"quantitative","scale":{"type":"log","domain":[1.479e-10,167.1],"nice":false}},"y":{"datum":0.3,"type":"quantitative","scale":{"domain":[-2.331,18.232],"reverse":true,"nice":false,"zero":false}},"y2":{"datum":14.06}}},
{"data":{"name":"studies"},"transform":[{"filter":"datum.panel==='C' && isValid(datum.est)"}],"layer":[
{"mark":{"type":"rule","color":"#555","strokeWidth":1.4},"encoding":{"x":{"field":"lo","type":"quantitative","scale":{"type":"log","domain":[1.479e-10,167.1],"nice":false}},"x2":{"field":"hi"},"y":{"field":"row","type":"quantitative","scale":{"domain":[-2.331,18.232],"reverse":true,"nice":false,"zero":false}}}},
{"mark":{"type":"point","shape":"square","filled":true,"opacity":1,"color":"#0000c8"},"encoding":{"x":{"field":"est","type":"quantitative","scale":{"type":"log","domain":[1.479e-10,167.1],"nice":false}},"y":{"field":"row","type":"quantitative","scale":{"domain":[-2.331,18.232],"reverse":true,"nice":false,"zero":false}},"size":{"field":"weight","type":"quantitative","scale":{"domain":[0,0.3],"range":[0,32]},"legend":null}}}
]},
{"data":{"name":"diamonds"},"transform":[{"filter":"datum.panel==='C'"}],"mark":{"type":"area","color":"#000","opacity":1},"encoding":{"x":{"field":"v","type":"quantitative","scale":{"type":"log","domain":[1.479e-10,167.1],"nice":false}},"y":{"field":"top","type":"quantitative","scale":{"domain":[-2.331,18.232],"reverse":true,"nice":false,"zero":false}},"y2":{"field":"bot"}}},
{"mark":{"type":"rule","color":"#444","strokeWidth":1.4},"encoding":{"x":{"datum":0.01,"type":"quantitative","scale":{"type":"log","domain":[1.479e-10,167.1],"nice":false}},"x2":{"datum":100},"y":{"datum":14.06,"type":"quantitative","scale":{"domain":[-2.331,18.232],"reverse":true,"nice":false,"zero":false}}}},
{"data":{"name":"ticks"},"layer":[
{"mark":{"type":"rule","color":"#444","strokeWidth":1.4},"encoding":{"x":{"field":"v","type":"quantitative","scale":{"type":"log","domain":[1.479e-10,167.1],"nice":false}},"y":{"datum":13.81,"type":"quantitative","scale":{"domain":[-2.331,18.232],"reverse":true,"nice":false,"zero":false}},"y2":{"datum":14.31}}},
{"mark":{"type":"text","align":"center","fontSize":10.5},"encoding":{"x":{"field":"v","type":"quantitative","scale":{"type":"log","domain":[1.479e-10,167.1],"nice":false}},"y":{"datum":14.83,"type":"quantitative","scale":{"domain":[-2.331,18.232],"reverse":true,"nice":false,"zero":false}},"text":{"field":"lab","type":"nominal"}}}
]},
{"mark":{"type":"text","text":"Favours [PG]","align":"right","dx":-3,"color":"#444","fontSize":10.8},"encoding":{"x":{"datum":1,"type":"quantitative","scale":{"type":"log","domain":[1.479e-10,167.1],"nice":false}},"y":{"datum":15.68,"type":"quantitative","scale":{"domain":[-2.331,18.232],"reverse":true,"nice":false,"zero":false}}}},
{"mark":{"type":"text","text":"Favours [PJ]","align":"left","dx":4,"color":"#444","fontSize":10.8},"encoding":{"x":{"datum":1,"type":"quantitative","scale":{"type":"log","domain":[1.479e-10,167.1],"nice":false}},"y":{"datum":15.68,"type":"quantitative","scale":{"domain":[-2.331,18.232],"reverse":true,"nice":false,"zero":false}}}},
{"mark":{"type":"text","text":"Odds Ratio","fontWeight":"bold","align":"center","dy":1.5},"encoding":{"x":{"datum":1,"type":"quantitative","scale":{"type":"log","domain":[1.479e-10,167.1],"nice":false}},"y":{"datum":-1,"type":"quantitative","scale":{"domain":[-2.331,18.232],"reverse":true,"nice":false,"zero":false}}}},
{"mark":{"type":"text","text":"M-H, Random, 95% CI","fontWeight":"bold","align":"center","dy":1.5},"encoding":{"x":{"datum":1,"type":"quantitative","scale":{"type":"log","domain":[1.479e-10,167.1],"nice":false}},"y":{"datum":0,"type":"quantitative","scale":{"domain":[-2.331,18.232],"reverse":true,"nice":false,"zero":false}}}}
]}
]
}
],
"config":{
"view":{"stroke":null},
"axis":{"disable":true},
"concat":{"spacing":0},
"text":{"font":"Liberation Sans","fontSize":10.3,"color":"#222","baseline":"middle"}
}
}
